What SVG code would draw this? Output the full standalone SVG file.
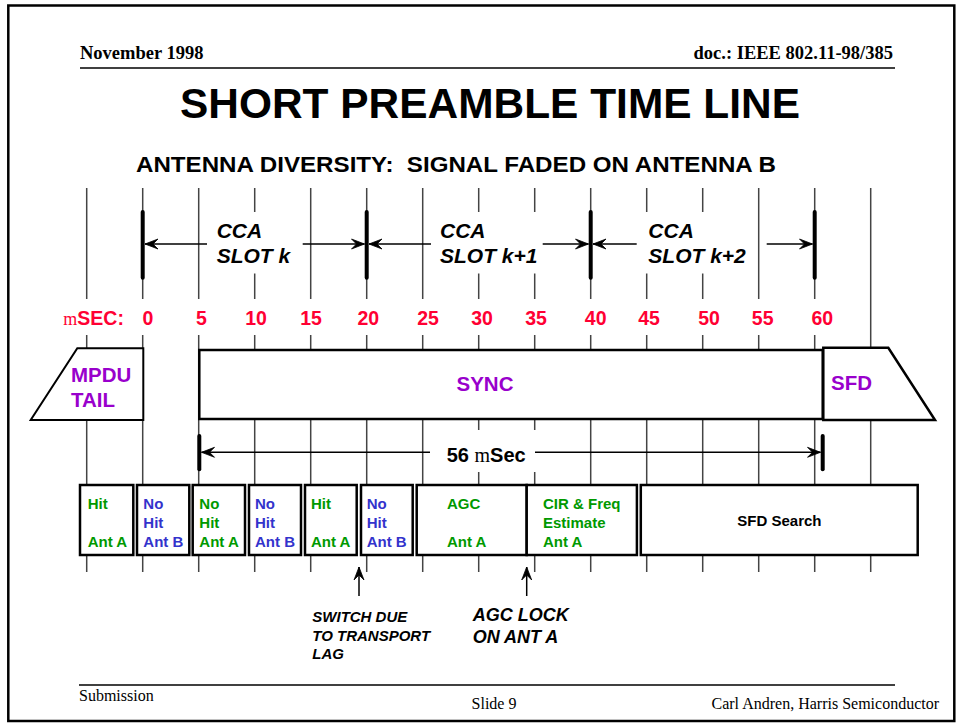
<svg xmlns="http://www.w3.org/2000/svg" width="956" height="723" viewBox="0 0 956 723">
<style>
.sans{font-family:"Liberation Sans",Arial,sans-serif;font-weight:bold}
.serif{font-family:"Liberation Serif","Times New Roman",serif}
.grid{stroke:#444;stroke-width:1.5}
.box{fill:#fff;stroke:#000;stroke-width:2.5}
.bar{stroke:#000;stroke-width:4;stroke-linecap:round}
.arr{stroke:#000;stroke-width:1.5;fill:none;marker-end:url(#ah)}
.red{fill:#FF0033}
.pur{fill:#9900CC}
.grn{fill:#009900}
.blu{fill:#3333CC}
.wht{fill:#fff}
.cca{font-family:"Liberation Sans",Arial,sans-serif;font-weight:bold;font-style:italic;font-size:21px}
.bx{font-family:"Liberation Sans",Arial,sans-serif;font-weight:bold;font-size:15px}
</style>
<defs>
<marker id="ah" viewBox="-14 -6 15 12" refX="0" refY="0" markerWidth="15" markerHeight="12" markerUnits="userSpaceOnUse" orient="auto">
<path d="M-13,-5 L0,0 L-13,5 L-8,0 Z" fill="#000" stroke="#000" stroke-width="0.8" stroke-linejoin="miter"/>
</marker>
</defs>
<rect x="0" y="0" width="956" height="723" fill="#fff"/>
<rect x="8.3" y="5.5" width="946" height="715.5" fill="none" stroke="#000" stroke-width="2.5"/>

<g id="header">
<text class="serif" x="80" y="59" font-size="18.5" font-weight="bold">November 1998</text>
<text class="serif" x="893" y="59" font-size="18.5" font-weight="bold" text-anchor="end">doc.: IEEE 802.11-98/385</text>
<line x1="80" y1="68" x2="895" y2="68" stroke="#000" stroke-width="1.5"/>
<text class="sans" x="180" y="118" font-size="43" textLength="620" lengthAdjust="spacingAndGlyphs">SHORT PREAMBLE TIME LINE</text>
<text class="sans" x="136" y="172" font-size="22" textLength="640" lengthAdjust="spacingAndGlyphs" style="white-space:pre">ANTENNA DIVERSITY:  SIGNAL FADED ON ANTENNA B</text>
</g>

<g id="grid">
<line class="grid" x1="86.7" y1="188" x2="86.7" y2="572"/>
<line class="grid" x1="142.7" y1="188" x2="142.7" y2="572"/>
<line class="grid" x1="198.7" y1="188" x2="198.7" y2="572"/>
<line class="grid" x1="254.7" y1="188" x2="254.7" y2="572"/>
<line class="grid" x1="310.7" y1="188" x2="310.7" y2="572"/>
<line class="grid" x1="366.7" y1="188" x2="366.7" y2="572"/>
<line class="grid" x1="422.7" y1="188" x2="422.7" y2="572"/>
<line class="grid" x1="478.7" y1="188" x2="478.7" y2="572"/>
<line class="grid" x1="534.7" y1="188" x2="534.7" y2="572"/>
<line class="grid" x1="590.7" y1="188" x2="590.7" y2="572"/>
<line class="grid" x1="646.7" y1="188" x2="646.7" y2="572"/>
<line class="grid" x1="702.7" y1="188" x2="702.7" y2="572"/>
<line class="grid" x1="758.7" y1="188" x2="758.7" y2="572"/>
<line class="grid" x1="814.7" y1="188" x2="814.7" y2="572"/>
<line class="grid" x1="870.7" y1="188" x2="870.7" y2="572"/>
<rect class="wht" x="207" y="212" width="95.5" height="61.5"/>
<rect class="wht" x="431" y="212" width="111.5" height="61.5"/>
<rect class="wht" x="637" y="212" width="118" height="61.5"/>
<rect class="wht" x="58" y="299" width="790" height="36"/>
<rect class="wht" x="428" y="430" width="108" height="42"/>
</g>

<g id="cca-slots">
<line class="bar" x1="142.7" y1="212" x2="142.7" y2="277.7"/>
<line class="bar" x1="366.7" y1="212" x2="366.7" y2="277.7"/>
<line class="bar" x1="590.7" y1="212" x2="590.7" y2="277.7"/>
<line class="bar" x1="814.7" y1="212" x2="814.7" y2="277.7"/>
<text class="cca" x="216.7" y="238">CCA</text>
<text class="cca" x="216.7" y="263">SLOT k</text>
<text class="cca" x="440" y="238">CCA</text>
<text class="cca" x="440" y="263">SLOT k+1</text>
<text class="cca" x="648.3" y="238">CCA</text>
<text class="cca" x="648.3" y="263">SLOT k+2</text>
</g>

<g id="msec-scale" class="sans red" font-size="19.5" text-anchor="middle">
<text x="63.3" y="325" text-anchor="start"><tspan class="serif" font-weight="normal" font-size="18">m</tspan>SEC:</text>
<text x="148" y="325">0</text>
<text x="201.5" y="325">5</text>
<text x="256" y="325">10</text>
<text x="311" y="325">15</text>
<text x="368.3" y="325">20</text>
<text x="428" y="325">25</text>
<text x="482" y="325">30</text>
<text x="536" y="325">35</text>
<text x="595.7" y="325">40</text>
<text x="649" y="325">45</text>
<text x="709" y="325">50</text>
<text x="762.7" y="325">55</text>
<text x="822.3" y="325">60</text>
</g>

<g id="mpdu-tail">
<path d="M77.3,348.3 L143.3,348.3 L143.3,420 L30.7,420 Z" fill="#fff" stroke="#000" stroke-width="2"/>
<text class="sans pur" x="71" y="382" font-size="20.5">MPDU</text>
<text class="sans pur" x="71" y="407" font-size="20.5">TAIL</text>
</g>

<g id="sync">
<rect x="199.3" y="350" width="623.4" height="69" fill="#fff" stroke="#000" stroke-width="2.5"/>
<text class="sans pur" x="485" y="391" font-size="20.5" text-anchor="middle">SYNC</text>
</g>

<g id="sfd">
<path d="M823.3,347.7 L888.3,347.7 L935,420 L823.3,420 Z" fill="#fff" stroke="#000" stroke-width="2.5"/>
<text class="sans pur" x="831" y="390" font-size="20.5">SFD</text>
</g>

<g id="connectors">
<line class="arr" x1="207" y1="244" x2="145" y2="244"/>
<line class="arr" x1="302.7" y1="244" x2="364.5" y2="244"/>
<line class="arr" x1="431" y1="244" x2="369" y2="244"/>
<line class="arr" x1="542.7" y1="244" x2="588.5" y2="244"/>
<line class="arr" x1="636.7" y1="244" x2="593" y2="244"/>
<line class="arr" x1="766.7" y1="244" x2="812.5" y2="244"/>
<line class="arr" x1="430" y1="452.3" x2="201.5" y2="452.3"/>
<line class="arr" x1="535" y1="452.3" x2="820.5" y2="452.3"/>
<line class="arr" x1="359" y1="596" x2="359" y2="567"/>
<line class="arr" x1="526.7" y1="596" x2="526.7" y2="567"/>
</g>

<g id="duration-56">
<line class="bar" x1="199.3" y1="436" x2="199.3" y2="469.3"/>
<line class="bar" x1="822.7" y1="436" x2="822.7" y2="469.3"/>
<text class="sans" x="446.7" y="461.7" font-size="20">56 <tspan class="serif" font-weight="normal">m</tspan>Sec</text>
</g>

<g id="box-hit-a1">
<rect class="box" x="80" y="485" width="53.3" height="70"/>
<text class="bx grn" x="87.7" y="509">Hit</text>
<text class="bx grn" x="87.7" y="547.3">Ant A</text>
</g>
<g id="box-nohit-b1">
<rect class="box" x="137" y="485" width="52.3" height="70"/>
<text class="bx blu" x="143.3" y="509">No</text>
<text class="bx blu" x="143.3" y="528.3">Hit</text>
<text class="bx blu" x="143.3" y="547.3">Ant B</text>
</g>
<g id="box-nohit-a">
<rect class="box" x="192.7" y="485" width="52.3" height="70"/>
<text class="bx grn" x="199.3" y="509">No</text>
<text class="bx grn" x="199.3" y="528.3">Hit</text>
<text class="bx grn" x="199.3" y="547.3">Ant A</text>
</g>
<g id="box-nohit-b2">
<rect class="box" x="249" y="485" width="52" height="70"/>
<text class="bx blu" x="255" y="509">No</text>
<text class="bx blu" x="255" y="528.3">Hit</text>
<text class="bx blu" x="255" y="547.3">Ant B</text>
</g>
<g id="box-hit-a2">
<rect class="box" x="305" y="485" width="51.7" height="70"/>
<text class="bx grn" x="311" y="509">Hit</text>
<text class="bx grn" x="311" y="547.3">Ant A</text>
</g>
<g id="box-nohit-b3">
<rect class="box" x="361" y="485" width="51.7" height="70"/>
<text class="bx blu" x="366.7" y="509">No</text>
<text class="bx blu" x="366.7" y="528.3">Hit</text>
<text class="bx blu" x="366.7" y="547.3">Ant B</text>
</g>
<g id="box-agc">
<rect class="box" x="416.7" y="485" width="110" height="70"/>
<text class="bx grn" x="447" y="509">AGC</text>
<text class="bx grn" x="447" y="547.3">Ant A</text>
</g>
<g id="box-cir">
<rect class="box" x="526.7" y="485" width="110.2" height="70"/>
<text class="bx grn" x="543" y="509">CIR &amp; Freq</text>
<text class="bx grn" x="543" y="528.3">Estimate</text>
<text class="bx grn" x="543" y="547.3">Ant A</text>
</g>
<g id="box-sfd-search">
<rect class="box" x="640.8" y="485" width="276.9" height="70"/>
<text class="bx" x="779.4" y="525.5" text-anchor="middle" fill="#000">SFD Search</text>
</g>

<g id="note-switch" class="sans" font-style="italic" font-size="15">
<text x="312.3" y="621.7">SWITCH DUE</text>
<text x="312.3" y="641">TO TRANSPORT</text>
<text x="312.3" y="659.3">LAG</text>
</g>
<g id="note-agc-lock" class="sans" font-style="italic" font-size="18">
<text x="472.7" y="620.7">AGC LOCK</text>
<text x="472.7" y="642.7">ON ANT A</text>
</g>

<g id="footer">
<line x1="79" y1="685" x2="895" y2="685" stroke="#000" stroke-width="1.5"/>
<text class="serif" x="79" y="701" font-size="16">Submission</text>
<text class="serif" x="494" y="709" font-size="16" text-anchor="middle">Slide 9</text>
<text class="serif" x="939" y="709" font-size="16" text-anchor="end">Carl Andren, Harris Semiconductor</text>
</g>
</svg>
